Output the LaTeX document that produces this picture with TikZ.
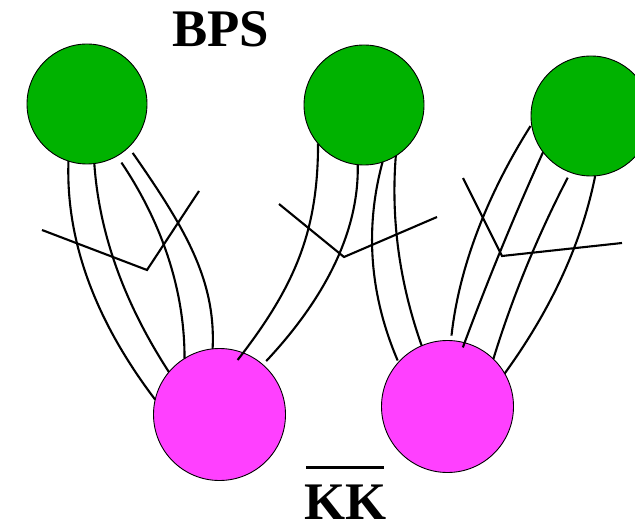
\documentclass[tikz,border=0pt]{standalone}
\usepackage{fontspec}
\setmainfont{Liberation Serif}
\definecolor{ballgreen}{RGB}{0,178,0}
\definecolor{ballmag}{RGB}{255,64,255}
\begin{document}
\begin{tikzpicture}[x=1bp,y=-1bp,
  gball/.style={circle,draw=black,line width=0.9bp,fill=ballgreen,minimum size=120bp,inner sep=0pt,outer sep=0pt},
  mball/.style={circle,draw=black,line width=0.9bp,fill=ballmag,minimum size=132bp,inner sep=0pt,outer sep=0pt},
  strand/.style={line width=2.1bp},
  zig/.style={line width=2.1bp,line join=miter},
  lbl/.style={font=\fontsize{53}{60}\selectfont\bfseries,inner sep=0pt,anchor=base}]
\useasboundingbox (0,0) rectangle (635,521);
\fill[white] (0,0) rectangle (635,521);
% balls
\node[gball] (g1) at (87,104) {};
\node[gball] (g2) at (364,105) {};
\node[gball] (g3) at (591,116) {};
\node[mball] (m1) at (219.5,414.5) {};
\node[mball] (m2) at (447.5,406.5) {};
% labels
\node[lbl] (bps) at (220.5,47) {BPS};
\node[lbl] (kk) at (345.5,519.5) {KK};
\draw[line width=2.6bp] (306,467.5) -- (384,467.5);
% strands from g1 to m1
\draw[strand] (g1.-108) .. controls (65.7,240) and (94.5,319.7) .. (m1.167);
\draw[strand] (g1.-83) .. controls (99.1,233.3) and (124,302.8) .. (m1.140);
\draw[strand,shorten <=8bp] (g1.-60) .. controls (162.2,223.2) and (184.7,290.7) .. (m1.122);
\draw[strand,shorten <=7bp] (g1.-46) .. controls (185,228) and (216,280) .. (m1.96);
% strands from g2
\draw[strand,shorten >=-9bp] (g2.-140) .. controls (318,230) and (296,285) .. (m1.69);
\draw[strand,shorten >=5bp] (g2.-96) .. controls (359.1,229.1) and (327.4,295.8) .. (m1.49);
\draw[strand,shorten >=2bp] (g2.-72) .. controls (364.5,228.6) and (369.8,295.3) .. (m2.138);
\draw[strand] (g2.-58) .. controls (390.8,219.4) and (399.4,282.7) .. (m2.113);
% strands from g3 to m2
\draw[strand,shorten <=2bp,shorten >=5bp] (g3.-172) .. controls (485.7,197.1) and (458.8,269.2) .. (m2.87);
\draw[strand,shorten >=-5bp] (g3.-143) .. controls (514.3,215.6) and (488.1,279.2) .. (m2.75);
\draw[strand,shorten <=6bp] (g3.-110) .. controls (538.1,234.6) and (512.4,296.8) .. (m2.46);
\draw[strand] (g3.-86) .. controls (581.9,242.2) and (552.1,308) .. (m2.30);
% crossing strings
\draw[zig] (42,230) -- (147,270) -- (199,191);
\draw[zig] (279,204) -- (344,257) -- (437,217);
\draw[zig] (463,178) -- (502,256) -- (622,243);
\end{tikzpicture}
\end{document}
